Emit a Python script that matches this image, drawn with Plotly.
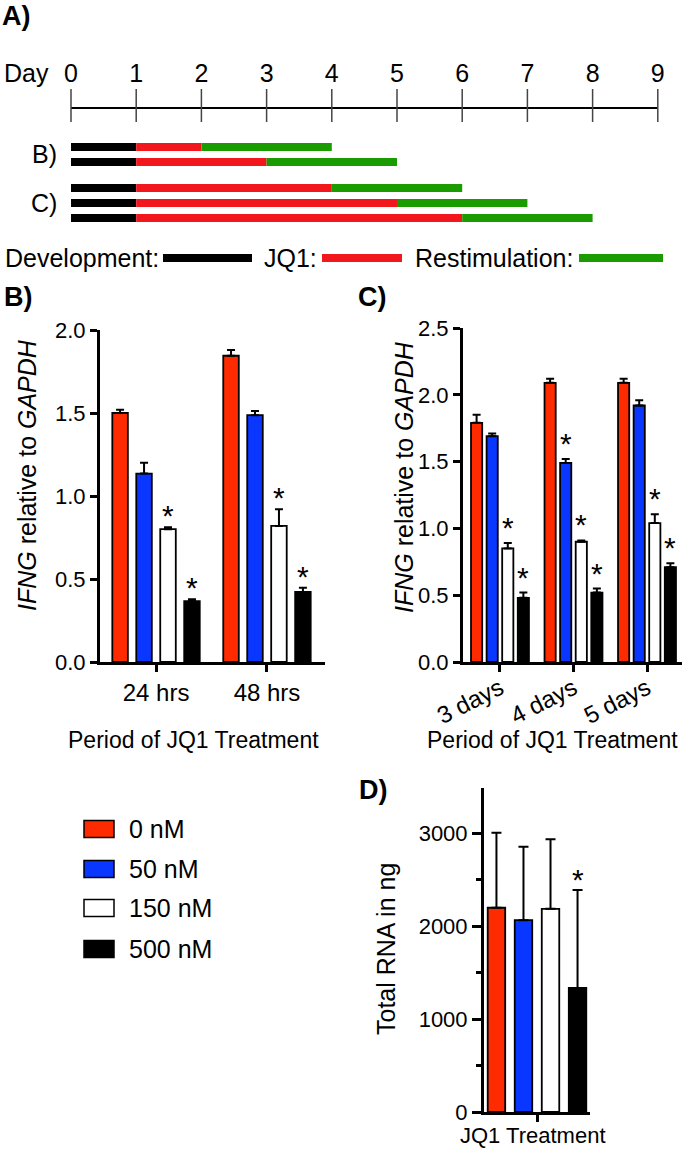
import plotly.graph_objects as go

W, H = 685, 1149
FONT = "Liberation Sans, Arial, Helvetica, sans-serif"

# ---------------- data ----------------
days = list(range(0, 10))
dev_days = 1
restim_days = 2
jq1_days_B = [1, 2]
jq1_days_C = [3, 4, 5]

conc_labels = ["0 nM", "50 nM", "150 nM", "500 nM"]
bar_colors = ["#FF2B00", "#0A37FF", "#FFFFFF", "#000000"]

b_categories = ["24 hrs", "48 hrs"]
b_0nM = [1.50, 1.845]
b_50nM = [1.135, 1.487]
b_150nM = [0.80, 0.82]
b_500nM = [0.367, 0.422]
b_0nM_err = [0.02, 0.035]
b_50nM_err = [0.065, 0.025]
b_150nM_err = [0.012, 0.10]
b_500nM_err = [0.011, 0.025]
b_sig = [[False, False], [False, False], [True, True], [True, True]]

c_categories = ["3 days", "4 days", "5 days"]
c_0nM = [1.79, 2.09, 2.09]
c_50nM = [1.69, 1.49, 1.92]
c_150nM = [0.85, 0.90, 1.04]
c_500nM = [0.48, 0.52, 0.71]
c_0nM_err = [0.06, 0.03, 0.03]
c_50nM_err = [0.02, 0.03, 0.04]
c_150nM_err = [0.04, 0.01, 0.065]
c_500nM_err = [0.04, 0.03, 0.03]
c_sig = [[False, False, False], [False, True, False], [True, True, True], [True, True, True]]

d_values = [2200, 2066, 2188, 1337]
d_err = [808, 791, 751, 1053]
d_sig = [False, False, False, True]

b_vals = [b_0nM, b_50nM, b_150nM, b_500nM]
b_errs = [b_0nM_err, b_50nM_err, b_150nM_err, b_500nM_err]
c_vals = [c_0nM, c_50nM, c_150nM, c_500nM]
c_errs = [c_0nM_err, c_50nM_err, c_150nM_err, c_500nM_err]


def px(xp):
    return xp / W


def py(yp):
    return 1 - yp / H


fig = go.Figure()
annotations = []
shapes = []

# ---------------- panel A (schedule) ----------------
tl_colors = {"dev": "#000000", "jq1": "#F2171D", "restim": "#1A9C00"}
TIMELINE_Y = 108
rows_B_y = [147, 162]
rows_C_y = [188, 203, 218]
BAR_T = 8

fig.add_trace(go.Scatter(x=[days[0], days[-1]], y=[TIMELINE_Y, TIMELINE_Y], mode="lines",
                         line=dict(color="black", width=2), xaxis="x4", yaxis="y4",
                         hoverinfo="skip"))
tx, ty = [], []
for d in days:
    tx += [d, d, None]
    ty += [TIMELINE_Y - 19, TIMELINE_Y + 14, None]
fig.add_trace(go.Scatter(x=tx, y=ty, mode="lines", line=dict(color="#444444", width=1.5),
                         xaxis="x4", yaxis="y4", hoverinfo="skip"))

sched_rows = [(y, j) for y, j in zip(rows_B_y, jq1_days_B)] + [(y, j) for y, j in zip(rows_C_y, jq1_days_C)]
for key in ["dev", "jq1", "restim"]:
    ys, bases, lens = [], [], []
    for y, j in sched_rows:
        ys.append(y)
        if key == "dev":
            bases.append(0); lens.append(dev_days)
        elif key == "jq1":
            bases.append(dev_days); lens.append(j)
        else:
            bases.append(dev_days + j); lens.append(restim_days)
    fig.add_trace(go.Bar(orientation="h", y=ys, x=lens, base=bases, width=BAR_T,
                         offset=-BAR_T / 2, marker=dict(color=tl_colors[key], line=dict(width=0)),
                         xaxis="x4", yaxis="y4", hoverinfo="skip"))

annotations += [
    dict(text="<b>A)</b>", x=px(0), y=py(16), xanchor="left", yanchor="middle", font=dict(size=27)),
    dict(text="Day", x=px(26), y=py(73), xanchor="center", yanchor="middle", font=dict(size=25)),
    dict(text="B)", x=px(44), y=py((rows_B_y[0] + rows_B_y[1]) / 2), xanchor="center", yanchor="middle", font=dict(size=25)),
    dict(text="C)", x=px(44), y=py(rows_C_y[1]), xanchor="center", yanchor="middle", font=dict(size=25)),
    dict(text="Development:", x=px(161), y=py(258), xanchor="right", yanchor="middle", font=dict(size=25)),
    dict(text="JQ1:", x=px(319), y=py(258), xanchor="right", yanchor="middle", font=dict(size=25)),
    dict(text="Restimulation:", x=px(575), y=py(258), xanchor="right", yanchor="middle", font=dict(size=25)),
]
for x0, x1, c in [(163, 252, tl_colors["dev"]), (322, 402, tl_colors["jq1"]), (579, 663, tl_colors["restim"])]:
    shapes.append(dict(type="rect", xref="paper", yref="paper", x0=px(x0), x1=px(x1),
                       y0=py(258 + 4), y1=py(258 - 4), fillcolor=c, line=dict(width=0)))

# ---------------- bar panels ----------------
def add_group(vals, errs, sig, xa, ya, pitch, width, cap, star_size, star_shift):
    n = len(vals)
    for i in range(n):
        off = (i - (n - 1) / 2) * pitch
        xs = list(range(len(vals[i])))
        fig.add_trace(go.Bar(
            x=xs, y=vals[i], width=width, offset=off - width / 2,
            marker=dict(color=bar_colors[i], line=dict(color="black", width=1.8)),
            error_y=dict(type="data", array=errs[i], arrayminus=[0] * len(xs), symmetric=False,
                         color="black", thickness=2, width=cap),
            xaxis=xa, yaxis=ya, name=conc_labels[i], hoverinfo="skip"))
        for j, s in enumerate(sig[i]):
            if s:
                annotations.append(dict(text="*", x=xs[j] + off, y=vals[i][j] + errs[i][j],
                                        xref=xa, yref=ya, xanchor="center", yanchor="bottom",
                                        yshift=star_shift, font=dict(size=star_size)))


add_group(b_vals, b_errs, b_sig, "x", "y", 0.216, 0.14, 4, 30, -7)
add_group(c_vals, c_errs, c_sig, "x2", "y2", 0.212, 0.152, 4, 30, -3)
add_group([[v] for v in d_values], [[e] for e in d_err], [[s] for s in d_sig], "x3", "y3", 0.255, 0.165, 5, 30, -8)

axis_common = dict(showline=True, linecolor="black", linewidth=3, ticks="outside", tickcolor="black",
                   tickwidth=3, ticklen=7, showgrid=False, zeroline=False, automargin=False,
                   tickfont=dict(size=22, color="black", family=FONT))
xtick_font = dict(size=24, color="black", family=FONT)

fig.update_layout(
    width=W, height=H, margin=dict(l=0, r=0, t=0, b=0, pad=0, autoexpand=False),
    paper_bgcolor="white", plot_bgcolor="rgba(0,0,0,0)", showlegend=False,
    font=dict(family=FONT, color="black"),
    barmode="group",
    xaxis=dict(domain=[px(100), px(325)], range=[-0.505, 1.523], anchor="y",
               tickvals=[0, 1], ticktext=b_categories, **{**axis_common, "tickfont": xtick_font}),
    yaxis=dict(domain=[py(662), py(330)], range=[0, 2.0], anchor="x", dtick=0.5, tickformat=".1f",
               **axis_common),
    xaxis2=dict(domain=[px(463), px(682)], range=[-0.503, 2.476], anchor="y2",
                tickvals=[0, 1, 2], ticktext=c_categories, tickangle=-27, ticklabelstandoff=-7,
                **{**axis_common, "tickfont": xtick_font}),
    yaxis2=dict(domain=[py(662), py(328)], range=[0, 2.5], anchor="x2", dtick=0.5, tickformat=".1f",
                **axis_common),
    xaxis3=dict(domain=[px(484), px(590)], range=[-0.5, 0.5], anchor="y3",
                tickvals=[0], ticktext=[""], **axis_common),
    yaxis3=dict(domain=[py(1112), py(788)], range=[0, 3490], anchor="x3", tickvals=[0, 1000, 2000, 3000],
                minor=dict(tickvals=[500, 1500, 2500], ticks="outside", ticklen=5, tickwidth=3, tickcolor="black"),
                **{**axis_common, "ticklen": 9}),
    xaxis4=dict(domain=[0, 1], range=[-71 / 65.2, (W - 71) / 65.2], anchor="y4", side="top",
                tickvals=days, showline=False, ticks="", showgrid=False, zeroline=False, automargin=False,
                tickfont=dict(size=25, color="black", family=FONT)),
    yaxis4=dict(domain=[py(280), py(88)], range=[280, 88], anchor="x4", visible=False, automargin=False),
)

annotations += [
    dict(text="<b>B)</b>", x=px(2), y=py(297), xanchor="left", yanchor="middle", font=dict(size=27)),
    dict(text="<b>C)</b>", x=px(356), y=py(297), xanchor="left", yanchor="middle", font=dict(size=27)),
    dict(text="<b>D)</b>", x=px(357), y=py(790), xanchor="left", yanchor="middle", font=dict(size=27)),
    dict(text="<i>IFNG</i> relative to <i>GAPDH</i>", x=px(27), y=py(475), textangle=-90,
         xanchor="center", yanchor="middle", font=dict(size=25)),
    dict(text="<i>IFNG</i> relative to <i>GAPDH</i>", x=px(404), y=py(477), textangle=-90,
         xanchor="center", yanchor="middle", font=dict(size=25)),
    dict(text="Period of JQ1 Treatment", x=px(193), y=py(740), xanchor="center", yanchor="middle",
         font=dict(size=23)),
    dict(text="Period of JQ1 Treatment", x=px(552), y=py(740), xanchor="center", yanchor="middle",
         font=dict(size=23)),
    dict(text="Total RNA in ng", x=px(386), y=py(949), textangle=-90, xanchor="center", yanchor="middle",
         font=dict(size=25)),
    dict(text="JQ1 Treatment", x=px(533), y=py(1135), xanchor="center", yanchor="middle",
         font=dict(size=22)),
]

# legend swatches
leg_y = [829, 869, 908, 949]
for lab, col, yc in zip(conc_labels, bar_colors, leg_y):
    shapes.append(dict(type="rect", xref="paper", yref="paper", x0=px(84), x1=px(114),
                       y0=py(yc + 8.5), y1=py(yc - 8.5), fillcolor=col, line=dict(color="black", width=1.5)))
    annotations.append(dict(text=lab, x=px(127), y=py(yc), xanchor="left", yanchor="middle",
                            font=dict(size=25)))

for a in annotations:
    a.setdefault("xref", "paper")
    a.setdefault("yref", "paper")
    a["showarrow"] = False
    a.setdefault("font", {})
    a["font"].setdefault("family", FONT)
    a["font"].setdefault("color", "black")

fig.update_layout(annotations=annotations, shapes=shapes)
fig.write_html("out.html", config={"displayModeBar": False},
               post_script="document.body.style.margin='0';document.body.style.overflow='hidden';")
